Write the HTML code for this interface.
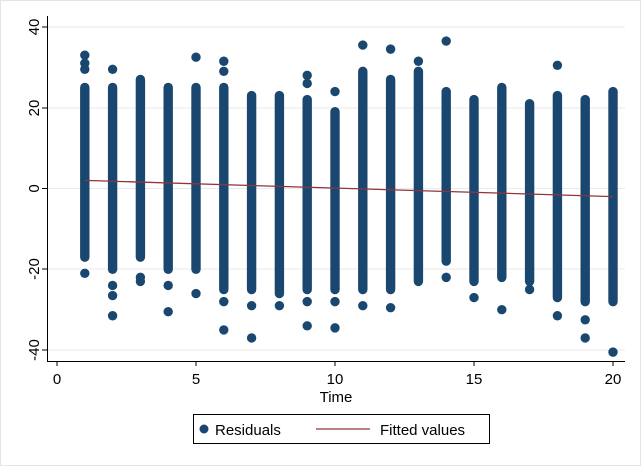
<!DOCTYPE html>
<html><head><meta charset="utf-8"><style>
html,body{margin:0;padding:0;background:#fff;}
svg{display:block;font-family:"Liberation Sans",Arial,sans-serif;}
</style></head><body>
<svg id="s" width="641" height="466" viewBox="0 0 641 466" xmlns="http://www.w3.org/2000/svg">
<rect x="0" y="0" width="641" height="466" fill="#fff"/>
<rect x="0.5" y="0.5" width="640" height="465" fill="none" stroke="#e4e4e4"/>
<g stroke="#eaeaea" stroke-width="1">
<line x1="48" x2="625" y1="27" y2="27"/><line x1="48" x2="625" y1="108" y2="108"/>
<line x1="48" x2="625" y1="188.5" y2="188.5"/><line x1="48" x2="625" y1="269" y2="269"/>
<line x1="48" x2="625" y1="350" y2="350"/>
</g>
<g id="pts" fill="#1a476f"></g>
<line x1="84.8" y1="180.4" x2="613" y2="196.6" stroke="#90353b" stroke-width="1.3"/>
<g stroke="#000" stroke-width="1">
<line x1="47.5" y1="16" x2="47.5" y2="361"/>
<line x1="47" y1="361.5" x2="625" y2="361.5"/>
<line x1="42" x2="47" y1="27" y2="27"/><line x1="42" x2="47" y1="108" y2="108"/>
<line x1="42" x2="47" y1="188.5" y2="188.5"/><line x1="42" x2="47" y1="269" y2="269"/>
<line x1="42" x2="47" y1="350" y2="350"/>
<line x1="57" x2="57" y1="361" y2="366"/><line x1="196" x2="196" y1="361" y2="366"/>
<line x1="335" x2="335" y1="361" y2="366"/><line x1="474" x2="474" y1="361" y2="366"/>
<line x1="613" x2="613" y1="361" y2="366"/>
</g>
<g font-size="15" text-anchor="middle" fill="#000">
<text transform="translate(39,27) rotate(-90)">40</text>
<text transform="translate(39,108) rotate(-90)">20</text>
<text transform="translate(39,188.5) rotate(-90)">0</text>
<text transform="translate(39,269) rotate(-90)">-20</text>
<text transform="translate(39,350) rotate(-90)">-40</text>
<text x="57" y="384">0</text><text x="196" y="384">5</text><text x="335" y="384">10</text>
<text x="474" y="384">15</text><text x="613" y="384">20</text>
<text x="336" y="402">Time</text>
</g>
<rect x="193.5" y="414.5" width="296" height="29" fill="#fff" stroke="#000"/>
<circle cx="204" cy="429" r="4.5" fill="#1a476f"/>
<line x1="316" x2="370" y1="429" y2="429" stroke="#90353b" stroke-width="1.3"/>
<text x="215" y="435" font-size="15">Residuals</text>
<text x="380" y="435" font-size="15">Fitted values</text>
</svg>
<script>
var d=[[25,-17,[33,31,29.5,-21]],[25,-20,[29.5,-24,-26.5,-31.5]],[27,-17,[-22,-23]],[25,-20,[-24,-30.5]],[25,-20,[32.5,-26]],[25,-25,[31.5,29,-28,-35]],[23,-25,[-29,-37]],[23,-26,[-29]],[22,-25,[28,26,-28,-34]],[19,-25,[24,-28,-34.5]],[29,-25,[35.5,-29]],[27,-25,[34.5,-29.5]],[29,-23,[31.5]],[24,-18,[36.5,-22]],[22,-23,[-27]],[25,-22,[-30]],[21,-23,[-25]],[23,-27,[30.5,-31.5]],[22,-28,[-32.5,-37]],[24,-28,[-40.5]]];
var g=document.getElementById('pts'),ns='http://www.w3.org/2000/svg';
function Y(v){return 188.5-4.04*v;}
d.forEach(function(c,i){var x=57+27.8*(i+1);
var r=document.createElementNS(ns,'rect');r.setAttribute('x',x-4.7);r.setAttribute('width',9.4);
r.setAttribute('y',Y(c[0])-4.7);r.setAttribute('height',Y(c[1])-Y(c[0])+9.4);r.setAttribute('rx',4.7);g.appendChild(r);
c[2].forEach(function(v){var e=document.createElementNS(ns,'circle');e.setAttribute('cx',x);e.setAttribute('cy',Y(v));e.setAttribute('r',4.7);g.appendChild(e);});});
</script>
</body></html>
